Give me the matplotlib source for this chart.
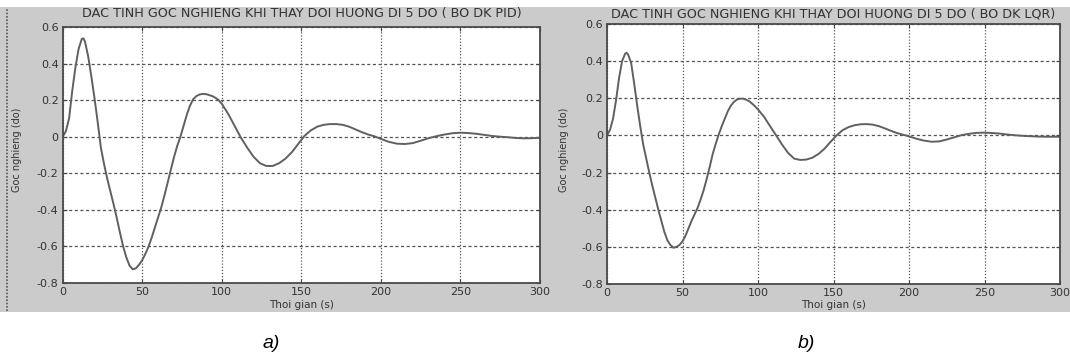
import matplotlib.pyplot as plt
from matplotlib.patches import Rectangle

# Goc nghieng (do), t in seconds
t = [0, 2, 4, 6, 8, 10, 12, 13, 14, 16, 18, 20, 22, 24, 26, 28, 30, 32, 34, 36,
     38, 40, 42, 44, 46, 48, 50, 52, 54, 56, 58, 60, 62, 64, 66, 68, 70, 72, 74, 76,
     78, 80, 82, 84, 86, 88, 90, 92, 94, 96, 98, 100, 104, 108, 112, 116, 120, 124,
     128, 132, 136, 140, 144, 148, 152, 156, 160, 164, 168, 172, 176, 180, 184, 188,
     192, 196, 200, 205, 210, 215, 220, 225, 230, 235, 240, 245, 250, 255, 260, 265,
     270, 275, 280, 285, 290, 295, 300]

pid = [0.0, 0.03, 0.10, 0.25, 0.38, 0.48, 0.535, 0.538, 0.52, 0.44, 0.33, 0.21, 0.08,
       -0.06, -0.15, -0.23, -0.30, -0.37, -0.445, -0.525, -0.60, -0.66, -0.705, -0.725,
       -0.72, -0.70, -0.675, -0.64, -0.60, -0.55, -0.495, -0.44, -0.385, -0.32, -0.25,
       -0.18, -0.11, -0.05, 0.0, 0.06, 0.12, 0.17, 0.205, 0.222, 0.231, 0.234, 0.233,
       0.228, 0.222, 0.213, 0.20, 0.18, 0.125, 0.06, -0.005, -0.06, -0.11, -0.145,
       -0.16, -0.16, -0.145, -0.12, -0.085, -0.04, 0.005, 0.035, 0.055, 0.065, 0.069,
       0.069, 0.065, 0.055, 0.04, 0.025, 0.012, 0.002, -0.012, -0.028, -0.038, -0.04,
       -0.035, -0.022, -0.008, 0.003, 0.012, 0.019, 0.022, 0.02, 0.016, 0.01, 0.004,
       0.0, -0.003, -0.007, -0.009, -0.008, -0.006]

lqr = [0.0, 0.03, 0.09, 0.19, 0.31, 0.40, 0.44, 0.445, 0.435, 0.39, 0.28, 0.16, 0.05,
       -0.05, -0.125, -0.20, -0.27, -0.335, -0.40, -0.46, -0.52, -0.565, -0.59, -0.605,
       -0.60, -0.59, -0.57, -0.54, -0.50, -0.46, -0.425, -0.39, -0.345, -0.295, -0.235,
       -0.17, -0.10, -0.045, 0.005, 0.05, 0.09, 0.13, 0.16, 0.18, 0.193, 0.198, 0.198,
       0.193, 0.185, 0.172, 0.157, 0.14, 0.10, 0.05, 0.0, -0.05, -0.095, -0.125, -0.132,
       -0.13, -0.12, -0.10, -0.072, -0.035, 0.0, 0.028, 0.045, 0.055, 0.06, 0.061,
       0.058, 0.05, 0.038, 0.025, 0.013, 0.004, -0.005, -0.018, -0.028, -0.034, -0.032,
       -0.022, -0.01, 0.002, 0.009, 0.014, 0.015, 0.013, 0.01, 0.005, 0.001, -0.002,
       -0.004, -0.006, -0.007, -0.007, -0.007]

titles = ['DAC TINH GOC NGHIENG KHI THAY DOI HUONG DI 5 DO ( BO DK PID)',
          'DAC TINH GOC NGHIENG KHI THAY DOI HUONG DI 5 DO ( BO DK LQR)']
captions = ['a)', 'b)']
xticks = [0, 50, 100, 150, 200, 250, 300]
yticks = [-0.8, -0.6, -0.4, -0.2, 0, 0.2, 0.4, 0.6]
ytick_labels = ['-0.8', '-0.6', '-0.4', '-0.2', '0', '0.2', '0.4', '0.6']

W, H = 1070, 358
fig = plt.figure(figsize=(W / 100, H / 100), dpi=100, facecolor='white')

# grey matlab-like background and dotted left edge
fig.patches.append(Rectangle((0, 1 - 312 / H), 1, (312 - 7) / H,
                             transform=fig.transFigure, facecolor='#cbcbcb',
                             edgecolor='none', zorder=-5))
fig.add_artist(plt.Line2D([7 / W, 7 / W], [1 - 311 / H, 1 - 8 / H],
                          transform=fig.transFigure, color='#555555',
                          linestyle=(0, (1, 1)), linewidth=1.2, zorder=-4))

# axes boxes in pixels: left, top, right, bottom
boxes = [(62.7, 27, 540, 283), (607, 24, 1060, 284)]
ylab_x = [17, 564]
cap_x = [271, 806]

for i, (l, tp, r, b) in enumerate(boxes):
    ax = fig.add_axes([l / W, 1 - b / H, (r - l) / W, (b - tp) / H])
    ax.set_facecolor('white')
    y = pid if i == 0 else lqr
    ax.plot(t, y, color='#606060', linewidth=1.4)
    ax.set_xlim(0, 300)
    ax.set_ylim(-0.8, 0.6)
    ax.set_xticks(xticks)
    ax.set_yticks(yticks)
    ax.set_yticklabels(ytick_labels)
    ax.xaxis.grid(True, color='#555555', linestyle=(0, (1, 1.5)), linewidth=0.9)
    ax.yaxis.grid(True, color='#555555', linestyle=(0, (2.5, 2)), linewidth=0.9)
    ax.tick_params(direction='in', length=3, top=True, right=True,
                   labelsize=8, labelcolor='#333333', color='#444444', pad=3)
    for sp in ax.spines.values():
        sp.set_color('#4a4a4a')
        sp.set_linewidth(1.3)
    cx = (l + r) / 2
    fig.text(cx / W, 1 - 14 / H, titles[i], ha='center', va='center',
             fontsize=9.2, color='#333333')
    fig.text(cx / W, 1 - 305 / H, 'Thoi gian (s)', ha='center', va='center',
             fontsize=7.5, color='#333333')
    fig.text(ylab_x[i] / W, 1 - 150 / H, 'Goc nghieng (do)', ha='center',
             va='center', rotation=90, fontsize=7, color='#333333')
    fig.text(cap_x[i] / W, 1 - 343 / H, captions[i], ha='center', va='center',
             fontsize=14, style='italic', family='Liberation Sans', color='black')

plt.savefig('out.png', dpi=100)
